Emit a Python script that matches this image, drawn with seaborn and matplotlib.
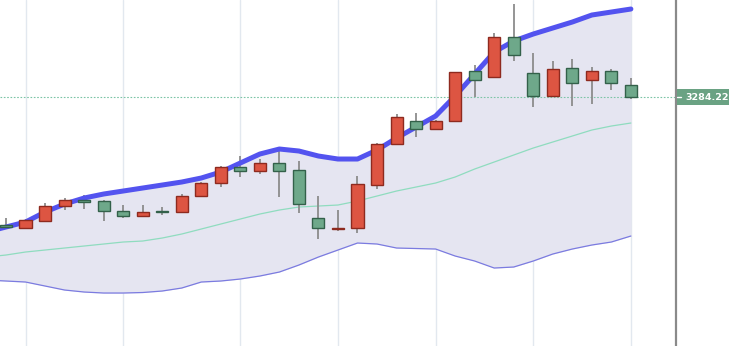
import matplotlib
matplotlib.use("Agg")
import matplotlib.pyplot as plt
from matplotlib.patches import Rectangle
import seaborn as sns
import numpy as np
import pandas as pd

# ---- data ----
idx = list(range(0, 33))
opens = [3156.2, 3153.2, 3160.2, 3175.2, 3181.2, 3180.2, 3170.7, 3165.7, 3170.2, 3169.2,
         3185.2, 3198.2, 3214.2, 3210.2, 3218.2, 3211.2, 3163.2, 3152.2, 3153.2, 3196.2,
         3237.2, 3260.2, 3252.2, 3260.2, 3310.2, 3304.2, 3344.2, 3308.2, 3285.2, 3313.2,
         3301.2, 3310.2, 3296.2]
highs = [3163.2, 3162.2, 3178.2, 3183.2, 3186.2, 3181.2, 3176.2, 3176.2, 3174.2, 3187.2,
         3199.2, 3215.2, 3225.2, 3222.2, 3232.2, 3220.2, 3185.2, 3171.2, 3205.2, 3238.2,
         3267.2, 3268.2, 3261.2, 3309.2, 3316.2, 3348.2, 3377.2, 3328.2, 3320.2, 3322.2,
         3314.2, 3312.2, 3303.2]
lows = [3153.2, 3152.2, 3159.2, 3171.2, 3172.2, 3160.2, 3163.2, 3164.2, 3166.2, 3169.2,
        3185.2, 3194.2, 3204.2, 3207.2, 3184.2, 3168.2, 3142.2, 3150.2, 3148.2, 3192.2,
        3236.2, 3244.2, 3252.2, 3260.2, 3284.2, 3303.2, 3320.2, 3274.2, 3285.2, 3275.2,
        3277.2, 3291.2, 3282.2]
closes = [3154.2, 3161.2, 3175.2, 3181.2, 3179.7, 3170.2, 3165.7, 3169.7, 3169.2, 3185.2,
          3198.2, 3214.2, 3210.2, 3218.2, 3210.2, 3177.2, 3153.2, 3153.2, 3197.2, 3237.2,
          3264.2, 3252.2, 3260.2, 3309.2, 3301.2, 3344.2, 3326.2, 3285.2, 3312.2, 3298.2,
          3310.2, 3298.2, 3284.22]

band_idx = list(range(-1, 33))
upper = [3149.2, 3154.2, 3159.2, 3169.2, 3177.2, 3183.2, 3187.2, 3190.2, 3193.2, 3196.2,
         3199.2, 3203.2, 3209.2, 3218.2, 3227.2, 3232.2, 3230.2, 3225.2, 3222.2, 3222.2,
         3231.2, 3243.2, 3254.2, 3265.2, 3285.2, 3307.2, 3329.2, 3340.2, 3347.2, 3353.2,
         3359.2, 3366.2, 3369.2, 3372.2]
middle = [3124.2, 3126.2, 3129.2, 3131.2, 3133.2, 3135.2, 3137.2, 3139.2, 3140.2, 3143.2,
          3147.2, 3152.2, 3157.2, 3162.2, 3167.2, 3171.2, 3174.2, 3175.2, 3176.2, 3180.2,
          3185.2, 3190.2, 3194.2, 3198.2, 3204.2, 3212.2, 3219.2, 3226.2, 3233.2, 3239.2,
          3245.2, 3251.2, 3255.2, 3258.2]
lower = [3101.2, 3100.2, 3099.2, 3095.2, 3091.2, 3089.2, 3088.2, 3088.2, 3088.7, 3090.2,
         3093.2, 3099.2, 3100.2, 3102.2, 3105.2, 3109.2, 3116.2, 3124.2, 3131.2, 3138.2,
         3137.2, 3133.2, 3132.7, 3132.2, 3125.2, 3120.2, 3113.2, 3114.2, 3120.2, 3127.2,
         3132.2, 3136.2, 3139.2, 3145.2]

grid_idx = [1, 6, 12, 17, 22, 27, 32]
last_price = 3284.22
last_label = "3284.22"

# ---- styling ----
sns.set_theme(style="white")
plt.rcParams['font.family'] = ['DejaVu Sans']

UP_FILL, UP_EDGE = "#dd5542", "#8e2a1f"
DN_FILL, DN_EDGE = "#6ea88a", "#33614a"
WICK = "#8c8c8c"

fig = plt.figure(figsize=(7.29, 3.46), dpi=100)
ax = fig.add_axes([0, 0, 676 / 729, 1])

bands = pd.DataFrame({"i": band_idx, "upper": upper, "middle": middle, "lower": lower})
ax.fill_between(bands["i"], bands["lower"], bands["upper"], color="#e5e5f1", zorder=1, lw=0)

for g in grid_idx:
    ax.axvline(g, color="#e2e8ef", lw=1, zorder=0.5)

sns.lineplot(data=bands, x="i", y="lower", ax=ax, color="#7b7be0", lw=0.9, zorder=2)
sns.lineplot(data=bands, x="i", y="middle", ax=ax, color="#8fdcbf", lw=0.9, zorder=2)
sns.lineplot(data=bands, x="i", y="upper", ax=ax, color="#5353ef", lw=3.6, zorder=4,
             solid_capstyle="round")

ax.axhline(last_price, color="#7cc4a6", lw=0.8, ls=(0, (1.5, 1.5)), zorder=2.5)

df = pd.DataFrame({"i": idx, "o": opens, "h": highs, "l": lows, "c": closes})
up = df["c"] >= df["o"]
ax.vlines(df["i"], df["l"], df["h"], color=WICK, lw=1.3, zorder=3)
bottoms = np.minimum(df["o"], df["c"])
heights = np.maximum(np.abs(df["c"] - df["o"]), 0.8)
ax.bar(df["i"], heights, bottom=bottoms, width=0.62,
       color=np.where(up, UP_FILL, DN_FILL),
       edgecolor=np.where(up, UP_EDGE, DN_EDGE), linewidth=1.0, zorder=5)

ax.set_xlim(-0.307, 34.31)
ax.set_ylim(3035.22, 3381.22)
ax.set_xticks([])
ax.set_yticks([])
ax.set_xlabel("")
ax.set_ylabel("")
for s in ["top", "left", "bottom"]:
    ax.spines[s].set_visible(False)
ax.spines["right"].set_color("#8a8a8a")
ax.spines["right"].set_linewidth(1.6)

# price label on the right scale
y_frac = (last_price - 3035.22) / (3381.22 - 3035.22)
box_h = 16 / 346
fig.patches.append(Rectangle((677 / 729, y_frac - box_h / 2), 52 / 729, box_h,
                             transform=fig.transFigure, fc="#6aa283", ec="none", zorder=5))
fig.lines.append(plt.Line2D([677 / 729, 681 / 729], [y_frac, y_frac], transform=fig.transFigure,
                            color="white", lw=1, zorder=6))
fig.text(685 / 729, y_frac, last_label, ha="left", va="center", fontsize=6.8,
         fontweight="bold", color="white", zorder=7)

fig.savefig("out.png", dpi=100)
